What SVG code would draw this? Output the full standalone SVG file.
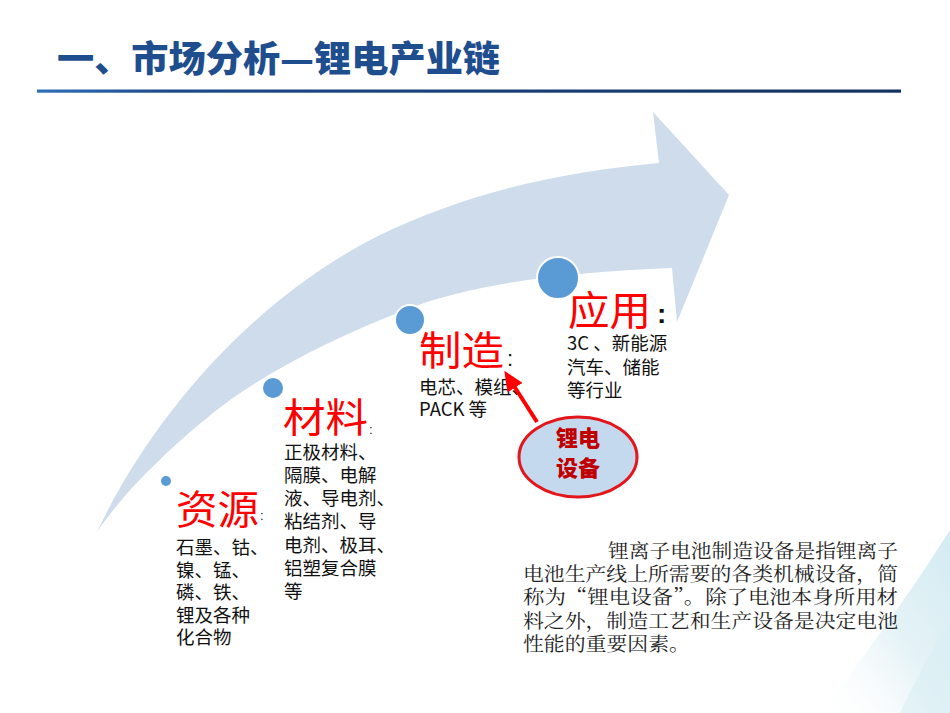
<svg xmlns="http://www.w3.org/2000/svg" width="950" height="713" viewBox="0 0 950 713">
  <defs>
    <linearGradient id="ruleGrad" x1="0" y1="0" x2="1" y2="0">
      <stop offset="0" stop-color="#2f6fb8"/>
      <stop offset="0.15" stop-color="#1d4a8a"/>
      <stop offset="1" stop-color="#14325f"/>
    </linearGradient>
    <linearGradient id="swoosh" x1="0" y1="1" x2="1" y2="0">
      <stop offset="0" stop-color="#ffffff" stop-opacity="0"/>
      <stop offset="0.5" stop-color="#e6f3f7"/>
      <stop offset="1" stop-color="#d3ebf2"/>
    </linearGradient>
    <marker id="redHead" markerUnits="userSpaceOnUse" markerWidth="20" markerHeight="18" refX="2" refY="9" orient="auto">
      <path d="M0,0 L20,9 L0,18 Z" fill="#ff0000"/>
    </marker>
    <style>
      .title { font-family: "Noto Sans CJK SC", "Liberation Sans", sans-serif; font-weight: 900; font-size: 36px; fill: #1f4e8f; }
      .big { font-family: "Noto Sans CJK SC", "Liberation Sans", sans-serif; font-size: 40px; fill: #ff0000; }
      .item { font-family: "Noto Sans CJK SC", "Liberation Sans", sans-serif; font-size: 18.5px; fill: #111111; }
      .colon { font-family: "Liberation Sans", "Noto Sans CJK SC", sans-serif; fill: #111111; }
      .dot { fill: #5b9bd5; stroke: #ffffff; stroke-width: 2; }
      .eqText { font-family: "Noto Sans CJK SC", "Liberation Sans", sans-serif; font-weight: 900; font-size: 22px; fill: #c00000; }
      .para { font-family: "Noto Serif CJK SC", "Noto Sans CJK SC", serif; font-size: 19px; fill: #222222; }
    </style>
  </defs>

  <rect x="0" y="0" width="950" height="713" fill="#ffffff"/>

  <!-- background swoosh bottom-right -->
  <g id="background">
    <path d="M820,713 C870,650 915,585 950,530 L950,713 Z" fill="url(#swoosh)"/>
    <path d="M900,713 C920,670 938,640 950,620 L950,713 Z" fill="#d9eef4" opacity="0.6"/>
  </g>

  <!-- title -->
  <g id="title">
    <text class="title" x="57" y="72" textLength="443" lengthAdjust="spacingAndGlyphs">一、市场分析—锂电产业链</text>
    <rect x="37" y="89.5" width="864" height="3.2" fill="url(#ruleGrad)"/>
  </g>

  <!-- big curved arrow -->
  <g id="chain-arrow">
    <path d="M97,532 C150,420 250,300 380,235 C470,192 560,172 659,163 L653,112 L729,195 L677,322 L672,268 C560,272 470,285 410,308 C340,335 280,365 230,400 C180,437 125,490 97,532 Z" fill="#cfdcec"/>
  </g>

  <!-- nodes -->
  <g id="node-ziyuan">
    <circle cx="166" cy="481" r="5" fill="#5b9bd5"/>
    <text class="big" x="176" y="524" textLength="83" lengthAdjust="spacingAndGlyphs">资源</text>
    <text class="colon" x="260" y="520" font-size="13">:</text>
    <text class="item" x="176" y="554">石墨、钴、</text>
    <text class="item" x="176" y="577">镍、锰、</text>
    <text class="item" x="176" y="599">磷、铁、</text>
    <text class="item" x="176" y="622">锂及各种</text>
    <text class="item" x="176" y="644">化合物</text>
  </g>

  <g id="node-cailiao">
    <circle class="dot" cx="273" cy="388" r="11"/>
    <text class="big" x="283" y="432" textLength="85" lengthAdjust="spacingAndGlyphs">材料</text>
    <text class="colon" x="369" y="434" font-size="13">:</text>
    <text class="item" x="284" y="459">正极材料、</text>
    <text class="item" x="284" y="482">隔膜、电解</text>
    <text class="item" x="284" y="505">液、导电剂、</text>
    <text class="item" x="284" y="528">粘结剂、导</text>
    <text class="item" x="284" y="552">电剂、极耳、</text>
    <text class="item" x="284" y="575">铝塑复合膜</text>
    <text class="item" x="284" y="598">等</text>
  </g>

  <g id="node-zhizao">
    <circle class="dot" cx="410" cy="320" r="15"/>
    <text class="big" x="419" y="365" textLength="85" lengthAdjust="spacingAndGlyphs">制造</text>
    <text class="colon" x="507" y="366" font-size="22">:</text>
    <text class="item" x="419" y="394">电芯、模组、</text>
    <text class="item" x="419" y="416">PACK 等</text>
  </g>

  <g id="node-yingyong">
    <circle class="dot" cx="558" cy="278" r="21"/>
    <text class="big" x="568" y="325" textLength="83" lengthAdjust="spacingAndGlyphs">应用</text>
    <text class="colon" x="657" y="323" font-size="28" font-weight="bold">:</text>
    <text class="item" x="567" y="350">3C 、新能源</text>
    <text class="item" x="567" y="374">汽车、储能</text>
    <text class="item" x="567" y="397">等行业</text>
  </g>

  <g id="node-equipment">
    <ellipse cx="578" cy="457" rx="59" ry="40" fill="#c5d9ee" stroke="#e3161c" stroke-width="3"/>
    <text class="eqText" x="578" y="446" text-anchor="middle">锂电</text>
    <text class="eqText" x="578" y="476" text-anchor="middle">设备</text>
  </g>

  <!-- connectors -->
  <g id="connectors">
    <line x1="537" y1="422" x2="514" y2="386" stroke="#ff0000" stroke-width="4" marker-end="url(#redHead)"/>
  </g>

  <!-- description paragraph -->
  <g id="description">
    <text class="para" x="608" y="558" textLength="290" lengthAdjust="spacingAndGlyphs">锂离子电池制造设备是指锂离子</text>
    <text class="para" x="523" y="581" textLength="375" lengthAdjust="spacingAndGlyphs">电池生产线上所需要的各类机械设备，简</text>
    <text class="para" x="523" y="604" textLength="375" lengthAdjust="spacingAndGlyphs">称为“锂电设备”。除了电池本身所用材</text>
    <text class="para" x="523" y="628" textLength="375" lengthAdjust="spacingAndGlyphs">料之外，制造工艺和生产设备是决定电池</text>
    <text class="para" x="523" y="651" textLength="167" lengthAdjust="spacingAndGlyphs">性能的重要因素。</text>
  </g>
</svg>
